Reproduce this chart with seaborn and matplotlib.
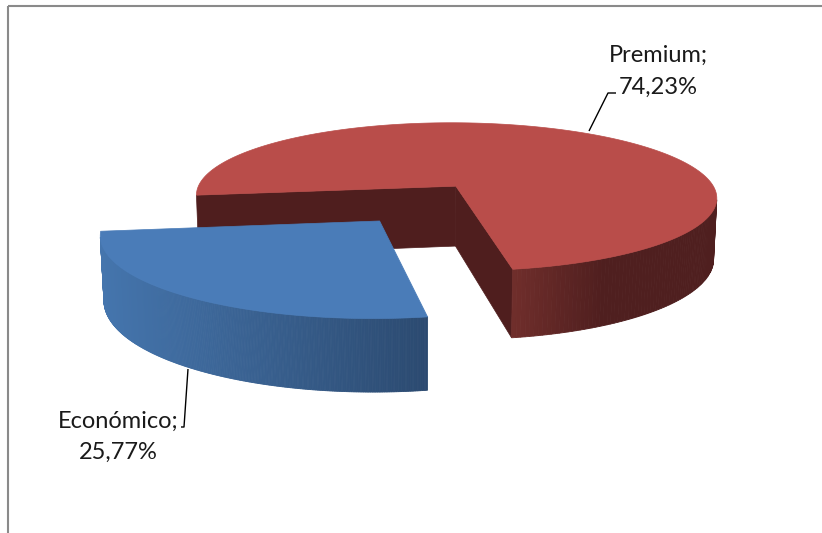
import numpy as np
import matplotlib
matplotlib.use("Agg")
import matplotlib.pyplot as plt
from matplotlib.patches import Polygon, Rectangle
import seaborn as sns

# Data
categories = ["Económico", "Premium"]
shares = [25.77, 74.23]
start_angle = 187.0

# Face colours per slice: top, light end of side, dark end of side, cut face
top_colors = ["#4a7cb8", "#b94d4a"]
side_light = [(0.27, 0.46, 0.68), (0.44, 0.18, 0.17)]
side_dark = [(0.17, 0.29, 0.44), (0.31, 0.12, 0.12)]
cut_colors = ["#2e4d74", "#4f1e1e"]
side_ramp = [1.0, 0.45]          # fraction of the slice width over which the side darkens

sns.set_theme(style="white")
plt.rcParams["font.family"] = ["Lato", "DejaVu Sans"]

W, H_PX = 822, 533
fig = plt.figure(figsize=(W / 100, H_PX / 100), dpi=100)
ax = fig.add_axes([0, 0, 1, 1])
ax.set_xlim(0, W)
ax.set_ylim(H_PX, 0)
ax.axis("off")

# Simple pinhole camera looking down at the pie
PHI = np.radians(16.9)
DIST = 6.5
FOC = 1729.0
CX, CY = 419.0, 203.0
THICK = 0.245
EXPLODE_X, EXPLODE_Y = 0.24, 0.28
cosp, sinp = np.cos(PHI), np.sin(PHI)
cam = np.array([0.0, -DIST * cosp, DIST * sinp])


def proj(x, y, z):
    depth = DIST + y * cosp - z * sinp
    up = y * sinp + z * cosp
    return CX + FOC * x / depth, CY - FOC * up / depth


def mix(c0, c1, t):
    return tuple(a + (b - a) * t for a, b in zip(c0, c1))


# slice angles from the shares
fracs = np.array(shares) / sum(shares)
bounds = start_angle + 360.0 * np.concatenate([[0], np.cumsum(fracs)])
slices = []
for i in range(len(shares)):
    a0, a1 = bounds[i], bounds[i + 1]
    mid = np.radians((a0 + a1) / 2)
    off = np.array([EXPLODE_X * np.cos(mid), EXPLODE_Y * np.sin(mid)])
    slices.append((i, a0, a1, off))

# draw far slices first
slices.sort(key=lambda s: -s[3][1])

for i, a0, a1, off in slices:
    th = np.radians(np.linspace(a0, a1, 300))
    px = off[0] + np.cos(th)
    py = off[1] + np.sin(th)
    top = np.array([proj(x, y, 0.0) for x, y in zip(px, py)])
    bot = np.array([proj(x, y, -THICK) for x, y in zip(px, py)])
    vt = proj(off[0], off[1], 0.0)
    vb = proj(off[0], off[1], -THICK)

    # radial cut faces
    for ang, sgn, idx in ((a0, -1, 0), (a1, 1, -1)):
        r = np.radians(ang + sgn * 90)
        n = np.array([np.cos(r), np.sin(r), 0.0])
        v = np.array([off[0], off[1], 0.0])
        if np.dot(cam - v, n) > 0:
            ax.add_patch(Polygon([vt, top[idx], bot[idx], vb], closed=True,
                                 facecolor=cut_colors[i], edgecolor=cut_colors[i], lw=0.5))

    # outer curved side, shaded across its width
    vis = []
    for k in range(len(th) - 1):
        m = 0.5 * (th[k] + th[k + 1])
        p = np.array([off[0] + np.cos(m), off[1] + np.sin(m), 0.0])
        n = np.array([np.cos(m), np.sin(m), 0.0])
        if np.dot(cam - p, n) > 0:
            vis.append(k)
    if vis:
        xs = np.concatenate([top[vis, 0], top[[k + 1 for k in vis], 0]])
        xmin, xmax = xs.min(), xs.max()
        for k in vis:
            xm = 0.5 * (top[k, 0] + top[k + 1, 0])
            t = np.clip((xm - xmin) / (xmax - xmin) / side_ramp[i], 0, 1)
            c = mix(side_light[i], side_dark[i], t)
            ax.add_patch(Polygon([top[k], top[k + 1], bot[k + 1], bot[k]], closed=True,
                                 facecolor=c, edgecolor=c, lw=0.6))

    # top face
    ax.add_patch(Polygon(np.vstack([[vt], top]), closed=True,
                         facecolor=top_colors[i], edgecolor=top_colors[i], lw=0.5))


def label_lines(i):
    return f"{categories[i]};", f"{shares[i]:.2f}%".replace(".", ",")


def draw_label(i, x, y_first, y_second):
    first, second = label_lines(i)
    for txt, y in ((first, y_first), (second, y_second)):
        ax.text(x, y, txt, ha="center", va="baseline", fontsize=17, color="#1a1a1a")


# data labels with leader lines
draw_label(1, 658, 62, 94)
ax.plot([589, 608, 616], [131, 93, 93], color="black", lw=1.0, solid_capstyle="butt")

draw_label(0, 118, 428, 459)
ax.plot([188, 184, 181], [369, 427, 427], color="black", lw=1.0, solid_capstyle="butt")

# chart area frame
ax.add_patch(Rectangle((7.5, 5.5), 830, 540, fill=False, edgecolor="#8a8a8a", lw=1.5))

fig.savefig("out.png", dpi=100)
